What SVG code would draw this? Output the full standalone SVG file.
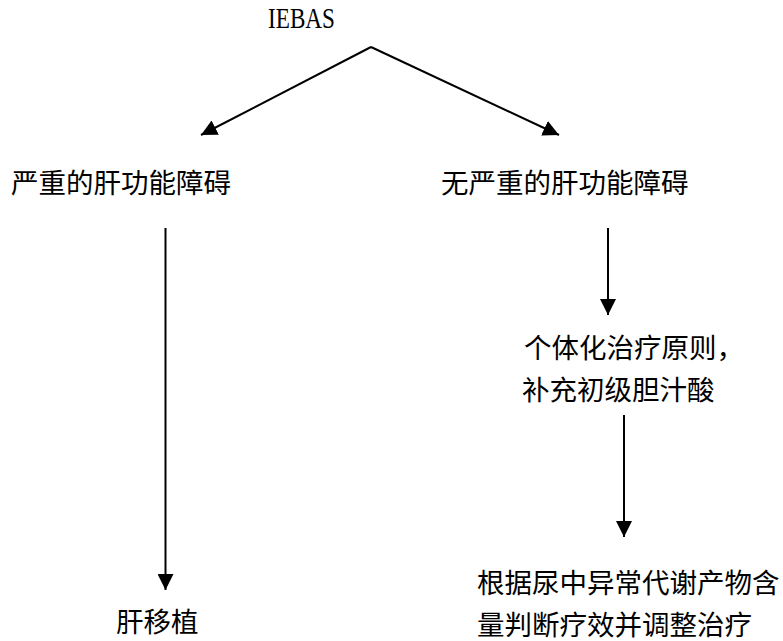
<svg xmlns="http://www.w3.org/2000/svg" width="783" height="641" viewBox="0 0 783 641">
<style>
.t{font-family:"Noto Sans CJK SC","Noto Sans",sans-serif;font-size:27.5px;fill:#000}
.l{font-family:"Liberation Serif","DejaVu Serif",serif;font-size:30px;fill:#000}
.c{stroke:#000;stroke-width:2;fill:none}
</style>
<defs>
<marker id="ah" markerUnits="userSpaceOnUse" markerWidth="16" markerHeight="16" refX="16" refY="8" orient="auto">
<path d="M0,0 L16,8 L0,16 z" fill="#000"/>
</marker>
</defs>
<rect width="783" height="641" fill="#fff"/>
<g id="connectors">
<line class="c" x1="371" y1="47" x2="201" y2="135" marker-end="url(#ah)"/>
<line class="c" x1="371" y1="47" x2="559" y2="135" marker-end="url(#ah)"/>
<line class="c" x1="165.5" y1="228" x2="165.5" y2="590" marker-end="url(#ah)"/>
<line class="c" x1="608" y1="228" x2="608" y2="315" marker-end="url(#ah)"/>
<line class="c" x1="624" y1="415" x2="624" y2="537" marker-end="url(#ah)"/>
</g>
<g id="n-iebas"><text class="l" x="268" y="28" textLength="67" lengthAdjust="spacingAndGlyphs">IEBAS</text></g>
<g id="n-severe"><text class="t" x="11" y="193">严重的肝功能障碍</text></g>
<g id="n-nosevere"><text class="t" x="441" y="193">无严重的肝功能障碍</text></g>
<g id="n-individual"><text class="t" x="524" y="358">个体化治疗原则，</text><text class="t" x="522" y="400">补充初级胆汁酸</text></g>
<g id="n-transplant"><text class="t" x="116" y="632">肝移植</text></g>
<g id="n-adjust"><text class="t" x="477" y="593">根据尿中异常代谢产物含</text><text class="t" x="477" y="635">量判断疗效并调整治疗</text></g>
</svg>
